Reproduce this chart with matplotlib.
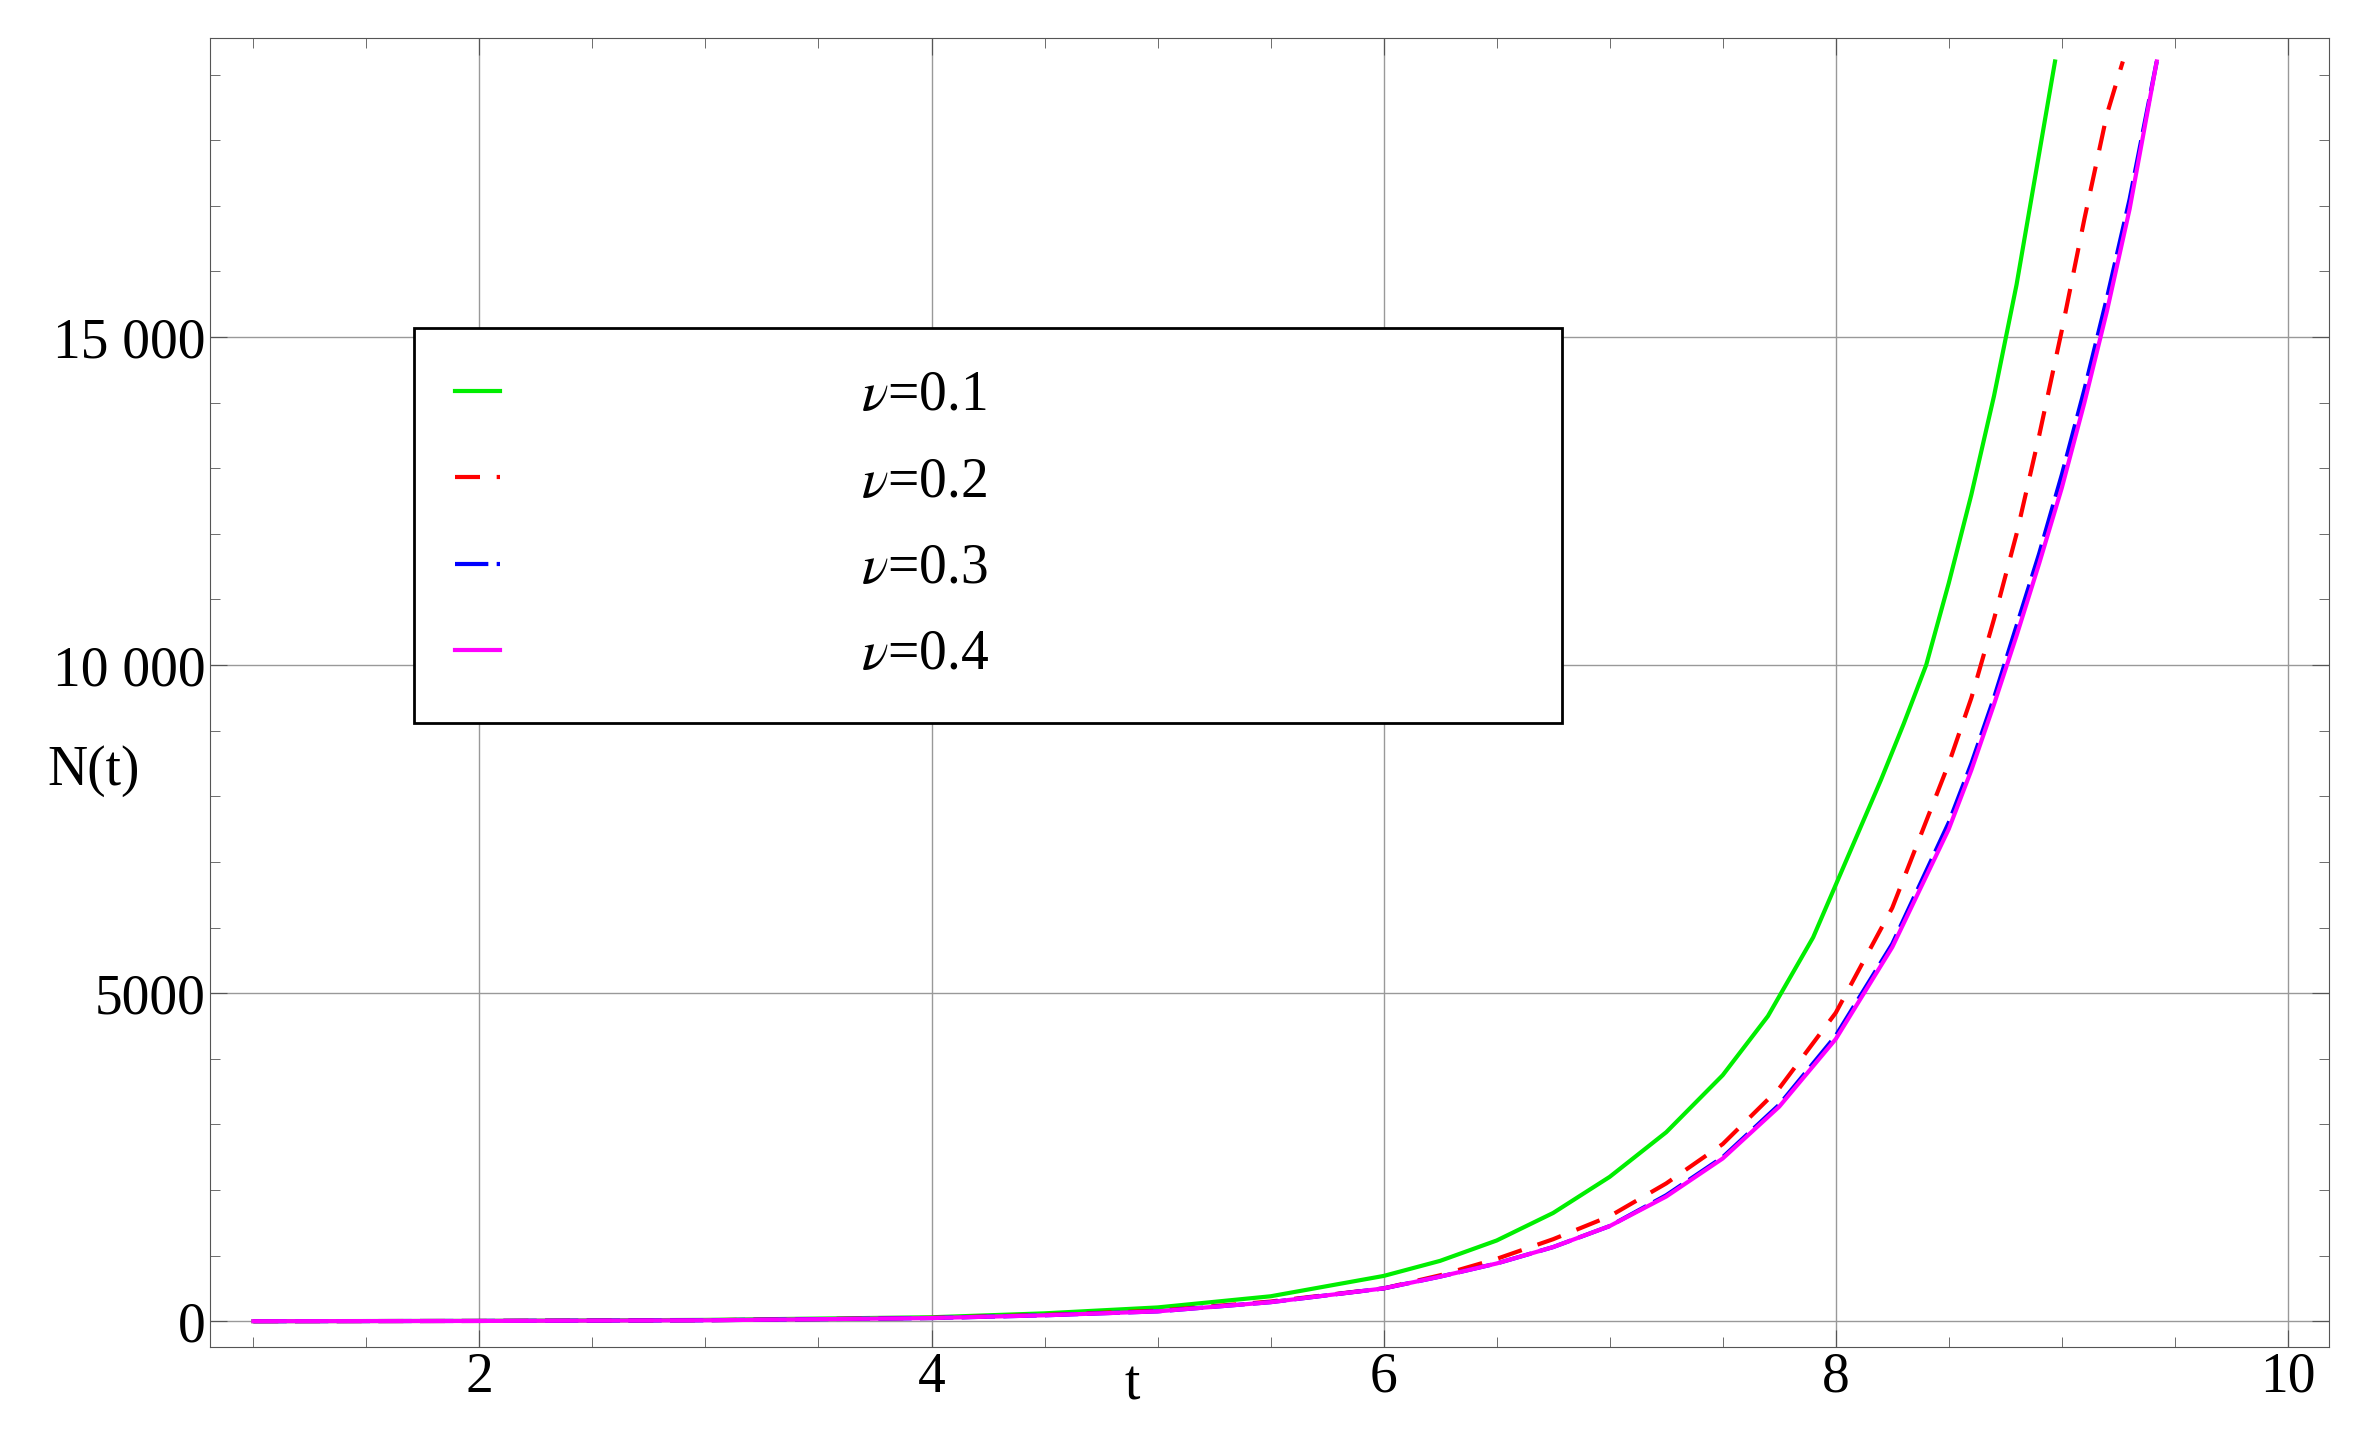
import numpy as np
import matplotlib.pyplot as plt
from matplotlib.ticker import MultipleLocator, FuncFormatter

plt.rcParams['font.family'] = ['Liberation Serif', 'DejaVu Serif']
plt.rcParams['mathtext.fontset'] = 'stix'

# values
t_g = [1, 2, 3, 4, 4.5, 5, 5.5, 6, 6.25, 6.5, 6.75, 7, 7.25, 7.5, 7.7, 7.9, 8, 8.1, 8.2, 8.3, 8.4, 8.5, 8.6, 8.7, 8.8, 8.9, 8.97]
n_g = [0, 5, 20, 60, 120, 210, 380, 690, 920, 1230, 1650, 2200, 2880, 3750, 4650, 5850, 6650, 7450, 8250, 9100, 10000, 11250, 12600, 14100, 15800, 17800, 19200]
t_r = [1, 2, 3, 4, 4.5, 5, 5.5, 6, 6.25, 6.5, 6.75, 7, 7.25, 7.5, 7.75, 8, 8.25, 8.5, 8.6, 8.7, 8.8, 8.9, 9, 9.1, 9.2, 9.27]
n_r = [0, 4, 15, 50, 95, 160, 300, 500, 700, 950, 1250, 1600, 2100, 2700, 3550, 4700, 6300, 8500, 9500, 10700, 12000, 13500, 15100, 16800, 18400, 19200]
t_b = [1, 2, 3, 4, 4.5, 5, 5.5, 6, 6.25, 6.5, 6.75, 7, 7.25, 7.5, 7.75, 8, 8.25, 8.5, 8.6, 8.7, 8.8, 8.9, 9, 9.1, 9.2, 9.3, 9.42]
n_b = [0, 4, 14, 48, 90, 150, 290, 500, 680, 880, 1130, 1450, 1920, 2500, 3300, 4350, 5750, 7600, 8500, 9500, 10600, 11700, 12900, 14200, 15600, 17100, 19200]
t_m = [1, 2, 3, 4, 4.5, 5, 5.5, 6, 6.25, 6.5, 6.75, 7, 7.25, 7.5, 7.75, 8, 8.25, 8.5, 8.6, 8.7, 8.8, 8.9, 9, 9.1, 9.2, 9.3, 9.42]
n_m = [0, 4, 14, 48, 90, 150, 290, 500, 680, 880, 1130, 1450, 1900, 2480, 3270, 4300, 5700, 7500, 8400, 9400, 10450, 11550, 12700, 14000, 15400, 16950, 19200]

fig = plt.figure(figsize=(23.64, 14.56), dpi=100)
ax = fig.add_axes([0.089, 0.075, 0.896, 0.899])

ax.plot(t_g, n_g, color='#00ee00', lw=3, label=r'$\nu$=0.1')
ax.plot(t_r, n_r, color='#ff0000', lw=3, dashes=(6, 4), label=r'$\nu$=0.2')
ax.plot(t_b, n_b, color='#0000ff', lw=3, dashes=(8, 2), label=r'$\nu$=0.3')
ax.plot(t_m, n_m, color='#ff00ff', lw=3, label=r'$\nu$=0.4')

ax.set_xlim(0.81, 10.18)
ax.set_ylim(-390, 19560)
ax.xaxis.set_major_locator(MultipleLocator(2))
ax.xaxis.set_minor_locator(MultipleLocator(0.5))
ax.yaxis.set_major_locator(MultipleLocator(5000))
ax.yaxis.set_minor_locator(MultipleLocator(1000))
ax.yaxis.set_major_formatter(FuncFormatter(
    lambda v, p: f'{int(v):,}'.replace(',', ' ') if v >= 10000 else f'{int(v)}'))
ax.tick_params(which='both', direction='in', top=True, right=True, labelsize=40, color='#555555')
ax.tick_params(which='major', length=12)
ax.tick_params(which='minor', length=7)
ax.grid(True, which='major', color='#999999', lw=1)
for s in ax.spines.values():
    s.set_color('#555555')

ax.set_xlabel('t', fontsize=40)
ax.set_ylabel('N(t)', fontsize=40, rotation=0)
ax.yaxis.set_label_coords(-0.055, 0.42)
ax.xaxis.set_label_coords(0.435, -0.01)

leg = ax.legend(bbox_to_anchor=(0.096, 0.428, 0.542, 0.35), mode='expand', loc='upper left',
                fontsize=40, handlelength=0.8, handletextpad=6.5, labelspacing=0.62,
                borderpad=0.75, borderaxespad=0, fancybox=False, edgecolor='black', framealpha=1)
leg.get_frame().set_linewidth(2)

fig.savefig('out.png', dpi=100)
